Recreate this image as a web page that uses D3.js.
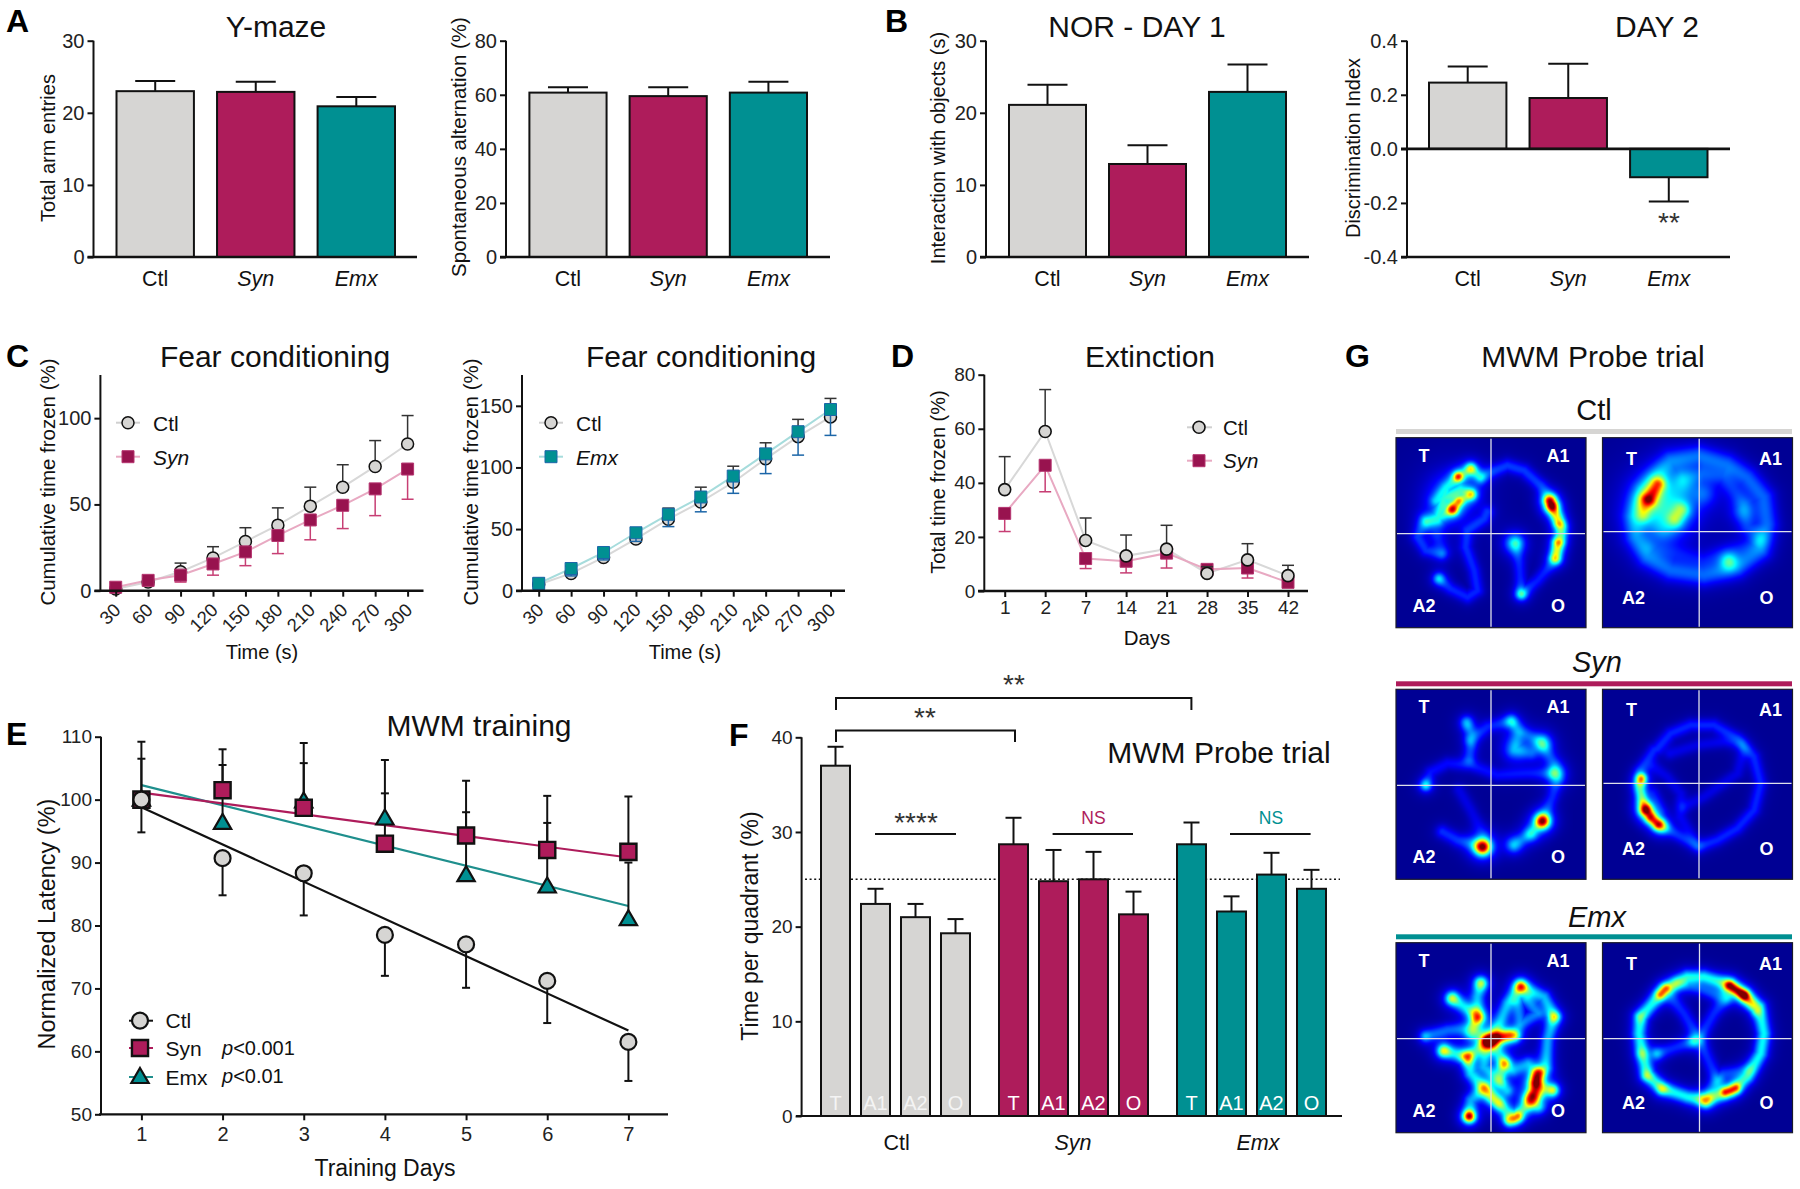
<!DOCTYPE html>
<html><head><meta charset="utf-8">
<script src="https://cdn.jsdelivr.net/npm/d3@7/dist/d3.min.js"></script>
<style>html,body{margin:0;padding:0;background:#fff}svg{display:block}text{font-family:"Liberation Sans",Arial,sans-serif;fill:#111}
.ax path,.ax line{stroke:#111;stroke-width:2;fill:none}.ax text{fill:#222}</style>
</head><body><div id="c"></div>
<script>
// ---------- data ----------
const groups=["Ctl","Syn","Emx"];
const yEntries=[23,22.9,20.9], yEntriesTop=[24.4,24.3,22.2];
const yAlt=[60.8,59.5,60.8], yAltTop=[62.8,62.8,64.8];
const norDay1=[21.1,12.9,22.9], norDay1Top=[23.9,15.5,26.7];
const norDay2=[0.245,0.188,-0.105], norDay2Err=[0.305,0.315,-0.195];
const fearTimes=[30,60,90,120,150,180,210,240,270,300];
const fearCtlA=[1,5,11,19,28.5,38,49,60,72,85];
const fearCtlATop=[2,7,16,25.5,36.5,48,60,73,87,101.5];
const fearSyn=[2,6,9,15.5,22.5,32,41,49.5,59,70.5];
const fearSynLow=[0.5,3.5,5,9,14.5,21.5,29.5,36,43.5,53];
const fearCtlB=[5,14,27,42,58,72,88,107,125,141];
const fearCtlBTop=[10,20,33,51,67,84,101,120,139,156];
const fearEmx=[6,18,31,47,62,76,93,111,129,147];
const fearEmxLow=[1,12,25,40,52,64,79,95,110,126];
const extDays=["1","2","7","14","21","28","35","42"];
const extCtl=[37.5,59,18.7,13,15.5,6.5,11.5,5.7];
const extCtlTop=[49.7,74.5,27,20.7,24.3,9,17.5,9.5];
const extSyn=[28.7,46.5,12,11,14,8,8.5,3.2];
const extSynLow=[22,36.7,8.3,6.7,8.5,6,4.8,2];
const trainDays=[1,2,3,4,5,6,7];
const latCtl=[100,90.7,88.3,78.5,77,71.2,61.5];
const latCtlLow=[94.8,84.8,81.6,72,70.1,64.5,55.3];
const latSyn=[100,101.5,98.7,93,94.3,92,91.7];
const latSynTop=[109.2,108,109,106.3,103,100.6,100.5];
const latEmx=[100,96.3,99.7,97,88,86.2,81];
const latEmxTop=[106.5,105.5,105.8,101,98,96.3,90];
const fitCtl=[98.8,63.3], fitSyn=[101.1,90.8], fitEmx=[102.3,83.1];
const quadrants=["T","A1","A2","O"];
const probeCtl=[37,22.4,21,19.3], probeCtlTop=[39,24,22.4,20.8];
const probeSyn=[28.7,24.8,25,21.3], probeSynTop=[31.5,28.1,27.9,23.7];
const probeEmx=[28.7,21.6,25.5,24], probeEmxTop=[31,23.2,27.8,26];
const chance=[25];
// heat maps: [peak, sigma, x1,y1,x2,y2,...] in tracking-image units
const heatCtlA=[
[.16,4.4,330,440,360,425,410,405,460,420,510,465,540,510,565,560,575,610,565,650,552,685],
[.8,4.5,537,512,540,520],[.42,4,548,540,562,575],[.25,4,572,590,565,630],[.4,4,560,640,554,680],
[.2,4,300,415,262,440,225,470,195,510,230,497,270,480,300,490,265,510,245,535,215,555,170,575,200,570,225,470],
[.18,16,240,495],[.12,8,190,570],[.18,4,300,415,330,440],
[.56,3.5,262,438],[.36,4,300,492],[.58,4,245,537],[.3,3.5,265,512],[.2,4,300,415],
[.14,4.2,160,570,140,620,165,660,210,670],[.1,5,200,620,215,665],[.2,4,205,745],[.14,4.2,205,745,240,775,290,800,320,780,310,720,285,650,290,600,340,565,350,545],
[.3,6.5,432,638],[.13,4.2,435,640,445,700,452,790,500,750,552,690],[.32,4,452,790]];
const heatCtlB=[
[.19,7,900,390,985,375,1070,400,1130,440,1180,500,1190,580,1170,660,1100,710,1000,735,900,720,830,680,795,620,790,560,820,480,880,410,900,390],
[.32,19,875,525],[.5,5,862,462,838,505],[.25,5,818,555,825,510],[.32,6,932,540,915,565],[.1,8,880,600],[.12,8,940,460],
[.14,8,1000,490],[.3,6,1075,692],[.14,8,1115,540],[.12,6,940,440,1000,430,1060,440,1120,520,1130,590,1165,620],[.08,6,840,650,1000,690,1160,640]];
const heatSynA=[
[.13,4.4,300,270,350,230,420,212,455,245,510,275,550,340,560,390,545,440,515,510,480,550,430,585],
[.16,4.4,288,215,300,250,300,290,295,325],[.14,4.5,288,222],[.24,4.5,422,215],[.32,6,515,280],[.3,6,555,370],[.9,5,515,513],[.9,5.5,335,590],[.22,5,480,552],[.18,6,430,583],
[.11,4.2,165,405,180,365,230,340,300,345,380,375,470,370,540,370],[.26,4,165,405],[.08,4.4,265,420,300,480,335,550],[.15,4.5,215,545,260,570,335,590],[.18,9,435,295],[.12,4.5,440,250,430,300,480,310]];
const heatSynB=[
[.14,4.2,860,295,900,250,960,225,1030,225,1100,265,1150,320,1170,400,1150,480,1100,535,1040,570,985,590,930,560,880,530,825,480,805,420,810,360,850,300,860,295],
[.55,3.6,812,385],[.28,3.8,808,405,815,450],[.85,4.5,825,478],[.65,4,842,505,860,522],[.3,4.5,875,530],
[.08,4.2,900,310,980,285,1060,275,1110,280],[.08,4.2,1120,300,1100,370,1000,440,940,470],[.08,4.2,850,350,890,380,930,430,930,500,980,585],[.08,4.2,850,430,870,480]];
const heatEmxA=[
[.3,4.6,245,295,310,340,320,350],[.28,5.5,320,350],[.28,4.5,245,295],[.3,4.5,330,250],[.26,4.6,330,250,320,290,320,350,300,400],[.2,4.6,165,408,230,390,300,385,360,420],
[.1,3.5,165,408],[.5,4.5,385,410,430,405],[.28,4.6,360,420,415,405],[.32,4.5,220,452],[.3,4.6,220,452,290,470,300,520,340,565,385,610,430,655,465,620,485,590],[.28,4.5,290,470],
[.2,5,340,565,360,590],[.24,4.5,385,610],[.45,4,415,660,440,650],[.38,5.5,480,600,495,580],[.66,5,500,520,495,545],[.25,4.6,480,590,505,620],[.3,4,545,570],[.24,4.6,545,570,500,560],
[.75,4,295,648],[.24,4.6,295,648,300,600,340,565],[.32,4.5,450,260],[.28,4.6,450,260,410,310,390,360,360,420],[.28,4.6,450,260,520,290,550,350,530,420,525,500,500,530],[.36,4,550,350],
[.2,4.5,400,490],[.25,4.6,400,490,385,540,410,570],[.22,4.6,440,310,450,370,500,340,470,300],[.18,5,345,430],[.24,4.6,345,430,290,470],[.24,4.6,400,490,360,420],[.22,4.6,430,510,470,490],[.24,4.6,345,430,340,500,385,540]];
const heatEmxB=[
[.36,4.6,880,270,810,350,805,400,815,460,830,525,875,565,950,590,1005,600,1080,572,1130,530,1170,460,1180,400,1165,320,1120,285,1080,255,1000,230,950,230,880,270],
[.4,3.6,870,282,885,265],[.14,4,810,350],[.16,4,815,460],[.2,4,830,525],[.26,4,875,565],[.24,5,1005,600],[.5,3.6,1065,575,1095,565],[.58,3.6,1078,257,1120,285],[.28,4,1120,285,1155,330],
[.16,4.6,1065,295,990,265,920,250],[.14,4.6,1070,255,1065,295,1030,340,985,415,940,340,900,290],[.14,4.6,860,460,965,425],[.14,4.6,985,415,1040,540,1060,520,1130,510],[.14,4,860,460],[.14,4,965,425],[.14,4.6,1040,540,1005,600]];

// ---------- palette ----------
const GR="#d6d5d3",MG="#ae1c5b",TL="#009092",MGD="#98134f";
const fills=[GR,MG,TL];

const svg=d3.select("#c").append("svg").attr("width",1800).attr("height",1189).attr("viewBox","0 0 1800 1189");
function T(x,y,s,o={}){const t=svg.append("text").attr("x",x).attr("y",y).text(s)
 .style("font-size",(o.size||18)+"px").attr("text-anchor",o.anchor||"middle");
 if(o.italic)t.style("font-style","italic"); if(o.bold)t.style("font-weight","bold");
 if(o.fill)t.style("fill",o.fill); if(o.opacity)t.style("opacity",o.opacity);
 if(o.rotate!==undefined)t.attr("transform",`rotate(${o.rotate} ${x} ${y})`);return t;}
function L(x1,y1,x2,y2,c="#111",w=2,dash){const l=svg.append("line").attr("x1",x1).attr("y1",y1).attr("x2",x2).attr("y2",y2).attr("stroke",c).attr("stroke-width",w);if(dash)l.attr("stroke-dasharray",dash);return l;}
function yAxis(x,scale,vals,fmt,size=20){const a=d3.axisLeft(scale).tickValues(vals).tickSize(6).tickPadding(3).tickSizeOuter(0);if(fmt)a.tickFormat(fmt);
 const g=svg.append("g").attr("class","ax").attr("transform",`translate(${x},0)`).call(a);g.select(".domain").attr("d",`M0,${scale.range()[1]}V${scale.range()[0]}`);g.selectAll("text").style("font-size",size+"px");return g;}
const isItal=d=>d==="Syn"||d==="Emx";

function barPanel(o){
 const y=d3.scaleLinear().domain(o.dom).range([o.yb,o.yt]);
 const x=d3.scaleBand().domain(groups).range(o.xr).paddingInner(o.pad).paddingOuter(0);
 const z=y(o.base||0);
 groups.forEach((g,i)=>{const cx=x(g)+x.bandwidth()/2;
  L(cx,y(o.vals[i]),cx,y(o.err[i]));L(cx-20,y(o.err[i]),cx+20,y(o.err[i]));});
 svg.selectAll(null).data(groups).enter().append("rect").attr("x",g=>x(g)).attr("width",x.bandwidth())
  .attr("y",(g,i)=>Math.min(y(o.vals[i]),z)).attr("height",(g,i)=>Math.abs(y(o.vals[i])-z))
  .attr("fill",(g,i)=>fills[i]).attr("stroke","#111").attr("stroke-width",2);
 yAxis(o.ax,y,o.ticks,o.fmt);
 L(o.ax-6,z,o.xEnd,z,"#111",2.6);
 if(o.base!==undefined)L(o.ax-6,o.yb,o.xEnd,o.yb,"#111",2.6);
 groups.forEach(g=>T(x(g)+x.bandwidth()/2,285.5,g,{size:21.5,italic:isItal(g)}));
 T(o.lx,o.lyc,o.label,{size:o.lsize||20,rotate:-90});
}
barPanel({dom:[0,30],yb:257,yt:40.7,xr:[116.5,395],pad:.23,vals:yEntries,err:yEntriesTop,ax:93.5,xEnd:417,ticks:[0,10,20,30],lx:55,lyc:148,label:"Total arm entries"});
barPanel({dom:[0,80],yb:257,yt:40.7,xr:[529.4,807],pad:.23,vals:yAlt,err:yAltTop,ax:506,xEnd:830,ticks:[0,20,40,60,80],lx:466,lyc:147,label:"Spontaneous alternation (%)",lsize:20.5});
barPanel({dom:[0,30],yb:257,yt:40.7,xr:[1009,1286],pad:.23,vals:norDay1,err:norDay1Top,ax:986,xEnd:1309,ticks:[0,10,20,30],lx:945,lyc:148,label:"Interaction with objects (s)"});
barPanel({dom:[-.4,.4],base:0,yb:257,yt:40.7,xr:[1429,1707.5],pad:.23,vals:norDay2,err:norDay2Err,ax:1407,xEnd:1730,ticks:[-.4,-.2,0,.2,.4],fmt:d=>d.toFixed(1),lx:1360,lyc:148,label:"Discrimination Index",lsize:20});
T(1669,232,"**",{size:28,fill:"#333"});
T(276,37,"Y-maze",{size:30});T(1137,37,"NOR - DAY 1",{size:30});T(1657,37,"DAY 2",{size:30});

const letters=[["A",6,32],["B",885,32],["C",6,367],["D",891,367],["E",6,745],["F",729,746],["G",1345,367]];
letters.forEach(l=>T(l[1],l[2],l[0],{size:32,bold:true,anchor:"start",fill:"#000"}));

function sym(type,size,x,y,fill,stroke,sw){return svg.append("path").attr("d",d3.symbol().type(type).size(size)())
 .attr("transform",`translate(${x},${y})`).attr("fill",fill).attr("stroke",stroke).attr("stroke-width",sw);}
const lineGen=(xs,ys)=>d3.line()(xs.map((x,i)=>[x,ys[i]]));
function series(xs,y,vals,c){svg.append("path").attr("d",lineGen(xs,vals.map(y))).attr("fill","none").attr("stroke",c).attr("stroke-width",2);}
function errs(xs,y,vals,err,c,cap=6,w=1.5){
 vals.forEach((v,i)=>{L(xs[i],y(v),xs[i],y(err[i]),c,w);L(xs[i]-cap,y(err[i]),xs[i]+cap,y(err[i]),c,w);});
}
function fearPanel(o){
 const y=d3.scaleLinear().domain([0,o.max]).range([590.7,375]);
 const x=d3.scalePoint().domain(fearTimes).range(o.xr);
 const xs=fearTimes.map(t=>x(t));
 series(xs,y,o.c,"#d8d8d8");series(xs,y,o.s,o.sl);
 errs(xs,y,o.c,o.ct,"#333");
 o.c.forEach((v,i)=>sym(d3.symbolCircle,113,xs[i],y(v),GR,"#111",1.5));
 errs(xs,y,o.s,o.sb,o.ec);
 o.s.forEach((v,i)=>sym(d3.symbolSquare,144,xs[i],y(v),o.sf,o.ss,1));
 yAxis(o.ax,y,o.ticks);
 L(o.ax-6,590.7,o.xEnd,590.7,"#111",2.6);
 const ag=svg.append("g").attr("class","ax").attr("transform","translate(0,590.7)")
   .call(d3.axisBottom(x).tickSize(6).tickSizeOuter(0).tickPadding(6));
 ag.select(".domain").remove();
 ag.selectAll("text").style("font-size","18.5px").attr("text-anchor","end").attr("dy",0).attr("transform","translate(-3,12) rotate(-45)");
 T(o.tx,366.7,"Fear conditioning",{size:30});
 T(o.xl,659,"Time (s)",{size:20});
 T(o.lx,482,"Cumulative time frozen (%)",{size:20.5,rotate:-90});
 L(o.lg,422.7,o.lg+24,422.7,"#d0d0d0",2);sym(d3.symbolCircle,113,o.lg+12,422.7,GR,"#111",1.5);
 T(o.lg+37,430.5,"Ctl",{size:21,anchor:"start"});
 L(o.lg,456.7,o.lg+24,456.7,o.sl,2);sym(d3.symbolSquare,144,o.lg+12,456.7,o.sf,o.ss,1);
 T(o.lg+37,464.5,o.sn,{size:21,anchor:"start",italic:true});
}
fearPanel({max:125,xr:[115.7,407.6],c:fearCtlA,ct:fearCtlATop,s:fearSyn,sb:fearSynLow,sl:"#e8a9c2",sf:MGD,ss:"#b5346f",ec:"#c73f74",ax:100.4,xEnd:423.5,ticks:[0,50,100],tx:275,xl:262,lx:55,lg:116,sn:"Syn"});
fearPanel({max:175,xr:[538.7,830.5],c:fearCtlB,ct:fearCtlBTop,s:fearEmx,sb:fearEmxLow,sl:"#a6dcdc",sf:TL,ss:"#1c66a8",ec:"#1c66a8",ax:522,xEnd:845,ticks:[0,50,100,150],tx:701,xl:685,lx:478,lg:539,sn:"Emx"});

// D
(function(){
 const y=d3.scaleLinear().domain([0,80]).range([591,374.7]);
 const x=d3.scalePoint().domain(extDays).range([1004.7,1288]);
 const xs=extDays.map(d=>x(d));
 series(xs,y,extCtl,"#d8d8d8");series(xs,y,extSyn,"#e8a9c2");
 errs(xs,y,extSyn,extSynLow,"#c73f74");extSyn.forEach((v,i)=>sym(d3.symbolSquare,144,xs[i],y(v),MGD,"#b5346f",1));
 errs(xs,y,extCtl,extCtlTop,"#333");extCtl.forEach((v,i)=>sym(d3.symbolCircle,113,xs[i],y(v),GR,"#111",1.6));
 yAxis(984.3,y,[0,20,40,60,80],null,19);
 L(978,591,1308,591,"#111",2.6);
 const ag=svg.append("g").attr("class","ax").attr("transform","translate(0,591)").call(d3.axisBottom(x).tickSize(6).tickSizeOuter(0).tickPadding(4));
 ag.select(".domain").remove();ag.selectAll("text").style("font-size","19px");
 T(1150,367,"Extinction",{size:30});T(1147,645,"Days",{size:20.5});T(945,482,"Total time frozen (%)",{size:20,rotate:-90});
 L(1187,427.3,1212,427.3,"#d0d0d0",2);sym(d3.symbolCircle,113,1199,427.3,GR,"#111",1.6);T(1223,435,"Ctl",{size:20.5,anchor:"start"});
 L(1187,460.7,1212,460.7,"#e8a9c2",2);sym(d3.symbolSquare,144,1199,460.7,MGD,"#b5346f",1);T(1223,468,"Syn",{size:20.5,anchor:"start",italic:true});
})();

// E
(function(){
 const y=d3.scaleLinear().domain([50,110]).range([1114.3,736.7]);
 const x=d3.scalePoint().domain(trainDays).range([141.4,628.4]);
 const xs=trainDays.map(d=>x(d));
 const ends=[x(1),x(7)];
 [[fitCtl,"#111"],[fitEmx,"#1f8f8d"],[fitSyn,MG]].forEach(([f,c])=>svg.append("path").attr("d",lineGen(ends,f.map(y))).attr("fill","none").attr("stroke",c).attr("stroke-width",2.2));
 errs(xs,y,latSyn,latSynTop,"#111",4,2);errs(xs,y,latEmx,latEmxTop,"#111",4,2);errs(xs,y,latCtl,latCtlLow,"#111",4,2);
 latEmx.forEach((v,i)=>sym(d3.symbolTriangle,130,xs[i],y(v)+1,TL,"#111",2.2));
 latSyn.forEach((v,i)=>sym(d3.symbolSquare,260,xs[i],y(v),MG,"#111",2.4));
 latCtl.forEach((v,i)=>sym(d3.symbolCircle,200,xs[i],y(v),GR,"#111",2.2));
 yAxis(101,y,[50,60,70,80,90,100,110],null,19);
 L(99,1114.3,668,1114.3,"#111",2.2);
 const ag=svg.append("g").attr("class","ax").attr("transform","translate(0,1114.3)").call(d3.axisBottom(x).tickSize(6).tickSizeOuter(0).tickPadding(7));
 ag.select(".domain").remove();ag.selectAll("text").style("font-size","20px");
 T(479,736,"MWM training",{size:30});T(385,1176,"Training Days",{size:23});T(55,924,"Normalized Latency (%)",{size:23.5,rotate:-90});
 L(129,1020.7,153,1020.7,"#111",2);sym(d3.symbolCircle,200,140,1020.7,GR,"#111",2.2);T(165.5,1028,"Ctl",{size:21,anchor:"start"});
 L(129,1048,153,1048,MG,2);sym(d3.symbolSquare,260,140,1048,MG,"#111",2.4);T(165.5,1056,"Syn",{size:21,anchor:"start"});
 L(129,1077,153,1077,"#1f8f8d",2);sym(d3.symbolTriangle,130,140,1078,TL,"#111",2.2);T(165.5,1085,"Emx",{size:21,anchor:"start"});
 const p=(yy,s)=>{const t=T(222,yy,"",{size:20,anchor:"start"});t.append("tspan").style("font-style","italic").text("p");t.append("tspan").text(s);};
 p(1055,"<0.001");p(1083,"<0.01");
})();

// F
(function(){
 const y=d3.scaleLinear().domain([0,40]).range([1116,737.3]);
 const x=d3.scaleLinear().domain([0,1]).range([821,861]);
 const gap=4.45;
 L(805,y(chance[0]),1340,y(chance[0]),"#111",1.6,"2 2.6");
 [[probeCtl,probeCtlTop,GR],[probeSyn,probeSynTop,MG],[probeEmx,probeEmxTop,TL]].forEach(([v,t,f],gi)=>{
  quadrants.forEach((q,i)=>{const xx=x(gi*gap+i),cx=xx+14.5;
   L(cx,y(v[i]),cx,y(t[i]));L(cx-8,y(t[i]),cx+8,y(t[i]));
   svg.append("rect").attr("x",xx).attr("y",y(v[i])).attr("width",29).attr("height",y(0)-y(v[i])).attr("fill",f).attr("stroke","#111").attr("stroke-width",2);
   T(cx,1109.5,q,{size:20,fill:"#fff",opacity:gi==0?.75:1});
  });});
 yAxis(801.6,y,[0,10,20,30,40],null,19);
 L(796,1116,1342,1116,"#111",2.2);
 T(896.7,1150,"Ctl",{size:21.5});T(1073,1150,"Syn",{size:21.5,italic:true});T(1258,1150,"Emx",{size:21.5,italic:true});
 T(758,926,"Time per quadrant (%)",{size:23,rotate:-90});
 T(1219,763,"MWM Probe trial",{size:30});
 const br=(x1,x2,yt,yb)=>svg.append("path").attr("d",`M${x1},${yb}V${yt}H${x2}V${yb}`).attr("fill","none").attr("stroke","#111").attr("stroke-width",2);
 br(836,1191.4,698,710);br(836,1015,730.4,742);
 T(1014,694,"**",{size:28,fill:"#333"});T(925,727,"**",{size:28,fill:"#333"});
 T(916,832,"****",{size:28,fill:"#333"});L(875,834,956,834);
 T(1093.5,824,"NS",{size:17.5,fill:MG});L(1052.6,834,1133,834);
 T(1271,824,"NS",{size:17.5,fill:TL});L(1230,834,1310.6,834);
})();

// G heat maps
function jet(v){const c=t=>Math.max(0,Math.min(1,1.5-Math.abs(4*v-t)));return [c(3)*255,c(2)*255,c(1)*255];}
function heat(px,py,data,dx,dy,vx,hy,lab){
 const S=190,sx=d3.scaleLinear().domain(dx).range([0,S]),sy=d3.scaleLinear().domain(dy).range([0,S]);
 const grid=new Float32Array(S*S);
 data.forEach(tr=>{const h=tr[0],s=tr[1],pts=[];for(let i=2;i<tr.length;i+=2)pts.push([sx(tr[i]),sy(tr[i+1])]);
  const R=s*6;
  const x0=Math.max(0,Math.floor(d3.min(pts,p=>p[0])-R)),x1=Math.min(S-1,Math.ceil(d3.max(pts,p=>p[0])+R));
  const y0=Math.max(0,Math.floor(d3.min(pts,p=>p[1])-R)),y1=Math.min(S-1,Math.ceil(d3.max(pts,p=>p[1])+R));
  for(let j=y0;j<=y1;j++)for(let i=x0;i<=x1;i++){let d2=1e9;
   if(pts.length==1){d2=(i-pts[0][0])**2+(j-pts[0][1])**2;}
   else for(let k=0;k<pts.length-1;k++){const a=pts[k],b=pts[k+1],ux=b[0]-a[0],uy=b[1]-a[1],l=ux*ux+uy*uy||1;
    const t=Math.max(0,Math.min(1,((i-a[0])*ux+(j-a[1])*uy)/l)),qx=a[0]+t*ux-i,qy=a[1]+t*uy-j,e=qx*qx+qy*qy;if(e<d2)d2=e;}
   // core plus a faint wide halo, as in the tracking software's glow
   grid[j*S+i]+=h*(.8*Math.exp(-d2/(2*s*s))+.2*Math.exp(-d2/(8*s*s)));}
 });
 const cv=document.createElement("canvas");cv.width=cv.height=S;const ctx=cv.getContext("2d"),im=ctx.createImageData(S,S);
 for(let k=0;k<S*S;k++){const c=jet(Math.min(1,grid[k])*0.98+0.02);
  im.data[k*4]=c[0];im.data[k*4+1]=c[1];im.data[k*4+2]=c[2];im.data[k*4+3]=255;}
 ctx.putImageData(im,0,0);
 svg.append("image").attr("x",px).attr("y",py).attr("width",S).attr("height",S).attr("href",cv.toDataURL());
 svg.append("rect").attr("x",px).attr("y",py).attr("width",S).attr("height",S).attr("fill","none").attr("stroke","#1a1a2a").attr("stroke-width",1.2);
 L(px+vx,py+1,px+vx,py+S-1,"#dfe0ea",1.3);L(px+1,py+hy,px+S-1,py+hy,"#dfe0ea",1.3);
 lab.forEach(l=>T(px+l[1],py+l[2],l[0],{size:18,bold:true,fill:"#fff"}));
}
const labL=[["T",28,24],["A1",162,24],["A2",28,174],["O",162,174]];
const labR=[["T",29,27],["A1",168,27],["A2",31,166],["O",164,166]];
T(1593,367,"MWM Probe trial",{size:30});
T(1594,420,"Ctl",{size:29});svg.append("rect").attr("x",1396).attr("y",429).attr("width",396).attr("height",5).attr("fill",GR);
T(1597,671.5,"Syn",{size:29,italic:true});svg.append("rect").attr("x",1396).attr("y",681.3).attr("width",396).attr("height",5).attr("fill",MG);
T(1597,927,"Emx",{size:29,italic:true});svg.append("rect").attr("x",1396).attr("y",934.3).attr("width",396).attr("height",5).attr("fill",TL);
heat(1396,437.7,heatCtlA,[77,647],[323,893],95,96,labL);
heat(1602.5,437.7,heatCtlB,[697,1267],[323,893],96.7,94,labR);
heat(1396,689.3,heatSynA,[77,647],[119,689],95,96,labL);
heat(1602.5,689.3,heatSynB,[697,1267],[119,689],96.5,94,labR);
heat(1396,942.7,heatEmxA,[77,647],[129,699],95,96,labL);
heat(1602.5,942.7,heatEmxB,[697,1267],[129,699],97,96,labR);
</script></body></html>
